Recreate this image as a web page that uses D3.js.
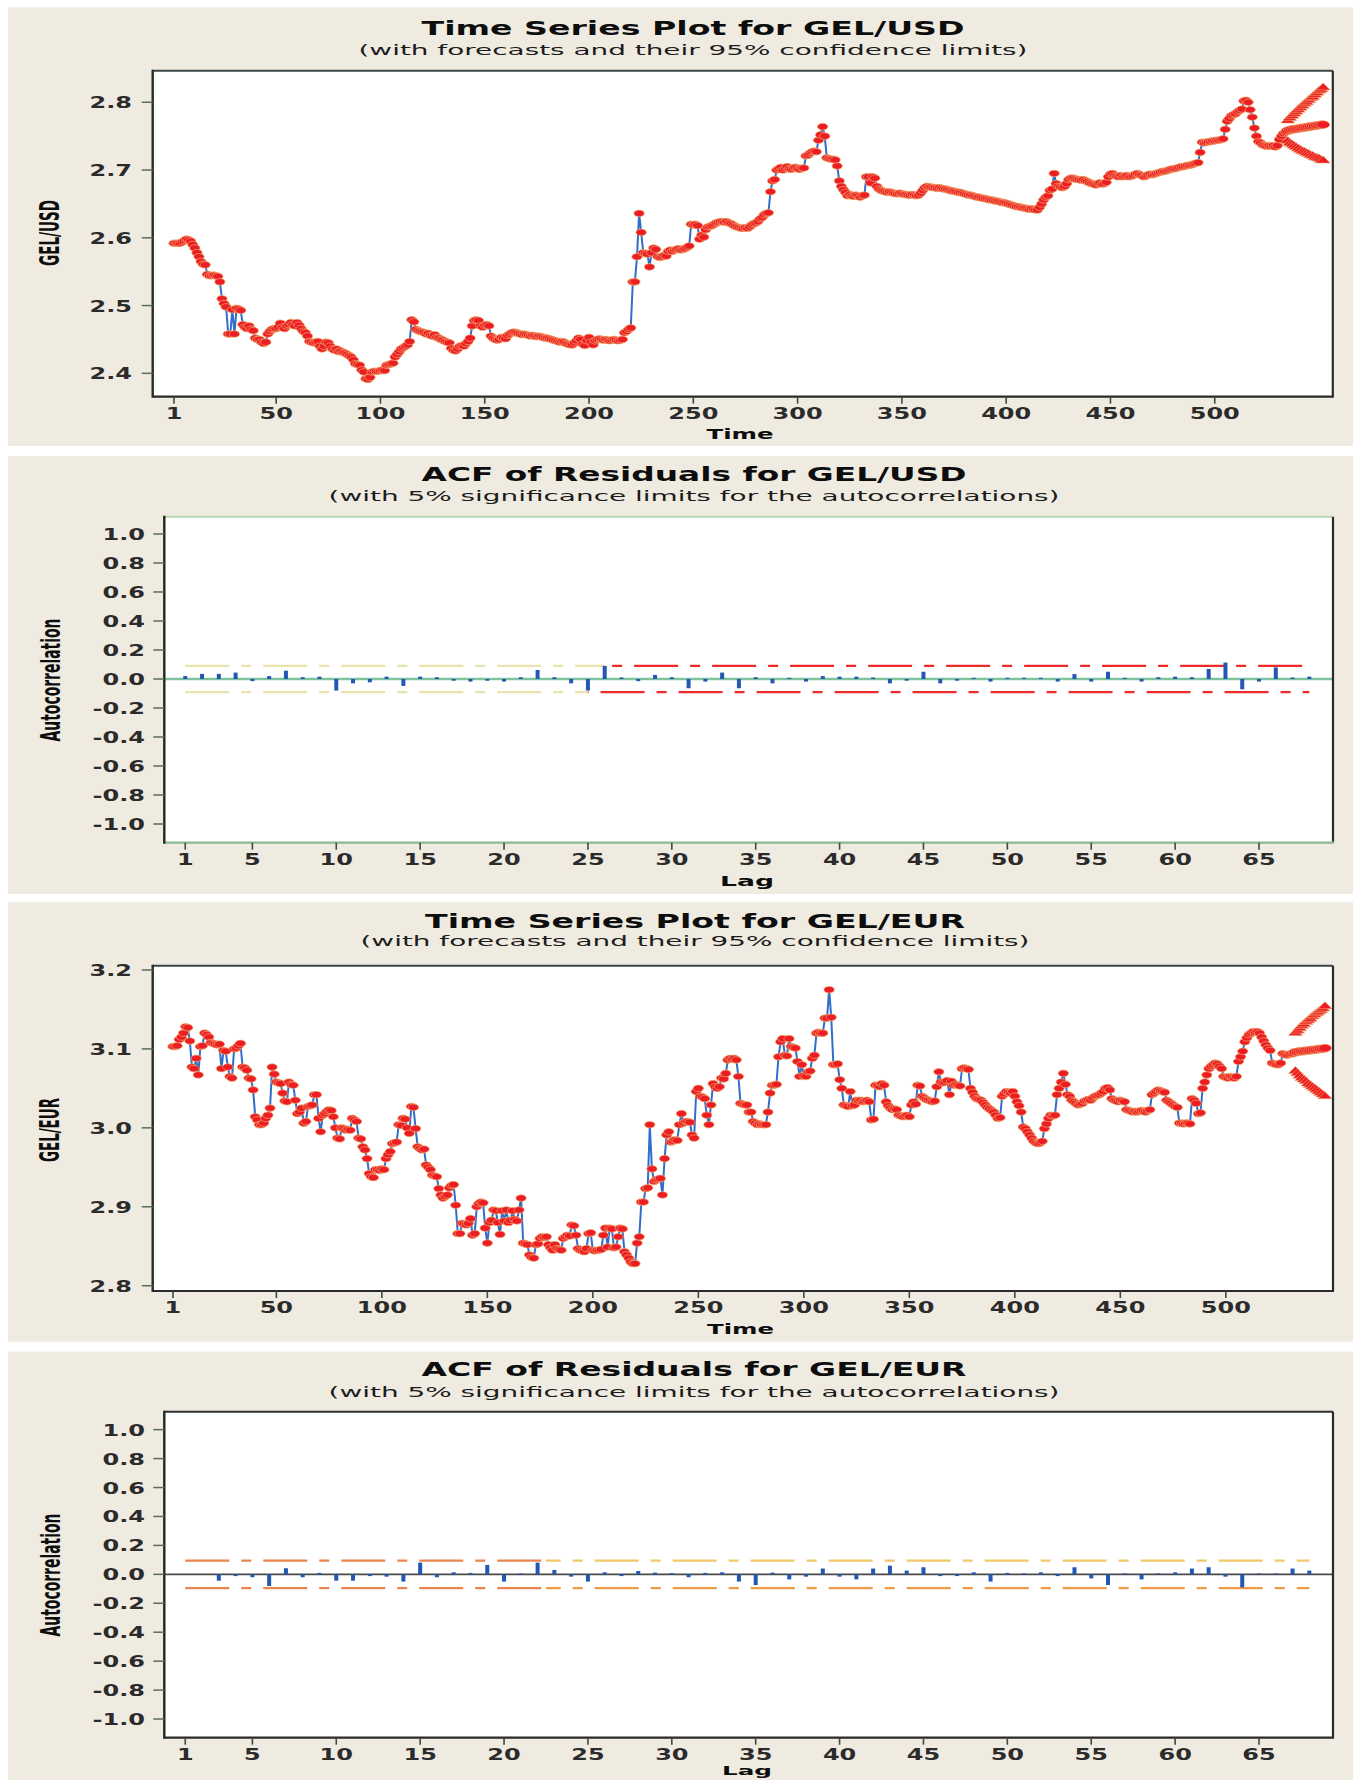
<!DOCTYPE html>
<html>
<head>
<meta charset="utf-8">
<script src="https://cdn.jsdelivr.net/npm/d3@7"></script>
<style>
  body { margin: 0; background: #ffffff; }
  svg { display: block; }
  text { font-family: "DejaVu Sans", Verdana, sans-serif; }
</style>
</head>
<body>
<svg id="chart" width="1362" height="1780"></svg>
<script>
// ---------- data ----------
const timeTicks = [1, 50, 100, 150, 200, 250, 300, 350, 400, 450, 500];
const lagTicks = [1, 5, 10, 15, 20, 25, 30, 35, 40, 45, 50, 55, 60, 65];
const usdTicks = [2.4, 2.5, 2.6, 2.7, 2.8];
const eurTicks = [2.8, 2.9, 3.0, 3.1, 3.2];
const acfTicks = [-1.0, -0.8, -0.6, -0.4, -0.2, 0.0, 0.2, 0.4, 0.6, 0.8, 1.0];

// GEL/USD observations, t = 1 ... n
const gelUsd = [
  2.592,2.592,2.592,2.592,2.594,2.596,2.598,2.597,2.595,2.590,
  2.585,2.578,2.572,2.565,2.561,2.560,2.546,2.544,2.544,2.545,
  2.544,2.543,2.535,2.510,2.503,2.498,2.458,2.458,2.494,2.458,
  2.496,2.495,2.493,2.472,2.468,2.466,2.470,2.465,2.463,2.452,
  2.450,2.450,2.446,2.444,2.446,2.458,2.462,2.465,2.466,2.466,
  2.468,2.474,2.468,2.466,2.470,2.472,2.475,2.472,2.470,2.475,
  2.471,2.466,2.462,2.460,2.455,2.447,2.446,2.445,2.446,2.447,
  2.440,2.436,2.440,2.446,2.445,2.440,2.436,2.434,2.436,2.432,
  2.433,2.431,2.430,2.428,2.426,2.424,2.420,2.414,2.413,2.412,
  2.405,2.402,2.392,2.391,2.394,2.402,2.403,2.403,2.403,2.404,
  2.405,2.404,2.412,2.413,2.414,2.415,2.424,2.428,2.432,2.436,
  2.438,2.440,2.442,2.447,2.479,2.476,2.465,2.463,2.462,2.461,
  2.460,2.458,2.459,2.456,2.455,2.457,2.453,2.452,2.450,2.449,
  2.447,2.446,2.445,2.437,2.434,2.433,2.436,2.440,2.441,2.440,
  2.444,2.447,2.452,2.470,2.478,2.479,2.478,2.470,2.468,2.471,
  2.472,2.470,2.455,2.452,2.450,2.449,2.450,2.453,2.452,2.451,
  2.456,2.458,2.460,2.461,2.460,2.459,2.458,2.457,2.458,2.457,
  2.456,2.455,2.456,2.455,2.454,2.455,2.454,2.453,2.452,2.452,
  2.451,2.450,2.449,2.448,2.447,2.446,2.447,2.446,2.444,2.443,
  2.442,2.442,2.445,2.448,2.452,2.450,2.443,2.441,2.448,2.453,
  2.446,2.442,2.448,2.450,2.451,2.450,2.449,2.450,2.449,2.448,
  2.449,2.450,2.449,2.448,2.449,2.450,2.460,2.462,2.465,2.467,
  2.535,2.535,2.572,2.636,2.608,2.578,2.577,2.576,2.557,2.578,
  2.585,2.583,2.572,2.571,2.572,2.574,2.573,2.580,2.582,2.580,
  2.582,2.583,2.584,2.582,2.583,2.584,2.586,2.588,2.620,2.619,
  2.620,2.618,2.598,2.604,2.601,2.612,2.616,2.617,2.618,2.620,
  2.622,2.623,2.624,2.624,2.623,2.624,2.622,2.621,2.619,2.617,
  2.616,2.615,2.614,2.614,2.615,2.614,2.616,2.619,2.621,2.622,
  2.624,2.628,2.630,2.634,2.636,2.637,2.668,2.684,2.686,2.700,
  2.702,2.704,2.700,2.703,2.705,2.702,2.701,2.703,2.704,2.702,
  2.701,2.703,2.703,2.721,2.722,2.725,2.727,2.728,2.727,2.744,
  2.752,2.764,2.750,2.718,2.717,2.716,2.716,2.715,2.706,2.684,
  2.676,2.671,2.667,2.662,2.664,2.662,2.661,2.663,2.662,2.660,
  2.662,2.663,2.690,2.690,2.681,2.690,2.688,2.676,2.672,2.670,
  2.669,2.668,2.667,2.668,2.667,2.666,2.665,2.665,2.666,2.665,
  2.664,2.664,2.663,2.663,2.664,2.663,2.662,2.663,2.666,2.670,
  2.674,2.676,2.675,2.675,2.674,2.674,2.673,2.674,2.673,2.672,
  2.672,2.671,2.670,2.669,2.669,2.668,2.667,2.667,2.666,2.665,
  2.664,2.663,2.663,2.662,2.661,2.660,2.660,2.659,2.658,2.658,
  2.657,2.656,2.656,2.655,2.654,2.654,2.653,2.652,2.652,2.651,
  2.650,2.649,2.648,2.647,2.646,2.646,2.645,2.644,2.644,2.643,
  2.642,2.643,2.642,2.641,2.641,2.645,2.650,2.656,2.660,2.662,
  2.670,2.672,2.695,2.680,2.676,2.675,2.674,2.676,2.680,2.686,
  2.688,2.688,2.687,2.686,2.686,2.685,2.686,2.684,2.683,2.681,
  2.680,2.679,2.678,2.680,2.681,2.679,2.680,2.682,2.690,2.694,
  2.695,2.692,2.691,2.690,2.692,2.690,2.691,2.692,2.690,2.691,
  2.692,2.694,2.695,2.693,2.692,2.690,2.691,2.693,2.694,2.693,
  2.694,2.695,2.696,2.697,2.698,2.698,2.699,2.700,2.701,2.702,
  2.702,2.703,2.704,2.705,2.705,2.706,2.707,2.707,2.708,2.709,
  2.710,2.711,2.726,2.741,2.740,2.741,2.742,2.742,2.743,2.743,
  2.744,2.744,2.745,2.746,2.760,2.772,2.776,2.780,2.782,2.783,
  2.786,2.788,2.790,2.802,2.803,2.800,2.789,2.778,2.762,2.750,
  2.742,2.740,2.737,2.736,2.735,2.736,2.735,2.736,2.734,2.736,
  2.745,2.750,2.754,2.756
];
const gelUsdForecast = [2.758,2.759,2.760,2.760,2.761,2.761,2.762,2.762,2.763,2.763,2.764,2.764,2.765,2.765,2.766,2.766,2.767,2.767];
const gelUsdUpper = [2.774,2.778,2.781,2.784,2.787,2.790,2.793,2.796,2.799,2.801,2.804,2.807,2.809,2.812,2.815,2.818,2.820,2.823];
const gelUsdLower = [2.744,2.741,2.739,2.737,2.735,2.733,2.731,2.729,2.728,2.726,2.725,2.723,2.722,2.720,2.719,2.718,2.716,2.715];

// GEL/EUR observations, t = 1 ... n
const gelEur = [
  3.103,3.103,3.104,3.112,3.115,3.120,3.128,3.127,3.110,3.077,
  3.075,3.088,3.067,3.103,3.104,3.120,3.118,3.115,3.108,3.107,
  3.106,3.105,3.106,3.075,3.098,3.097,3.077,3.065,3.063,3.100,
  3.101,3.104,3.107,3.077,3.076,3.073,3.063,3.062,3.048,3.014,
  3.010,3.004,3.004,3.006,3.012,3.016,3.025,3.077,3.068,3.058,
  3.057,3.056,3.044,3.034,3.033,3.058,3.055,3.054,3.035,3.018,
  3.020,3.025,3.006,3.008,3.027,3.028,3.029,3.042,3.042,3.012,
  2.995,3.016,3.018,3.021,3.023,3.022,3.014,3.000,2.987,2.986,
  3.000,2.999,2.997,2.998,2.997,3.012,3.010,3.008,2.987,2.986,
  2.976,2.972,2.961,2.942,2.938,2.937,2.947,2.947,2.946,2.948,
  2.947,2.961,2.966,2.970,2.980,2.981,2.982,3.004,3.003,3.012,
  3.011,3.000,2.993,3.027,3.026,2.999,2.976,2.974,2.972,2.973,
  2.953,2.950,2.947,2.940,2.939,2.938,2.923,2.915,2.911,2.913,
  2.915,2.924,2.927,2.928,2.902,2.866,2.866,2.879,2.878,2.877,
  2.879,2.885,2.864,2.866,2.900,2.904,2.906,2.905,2.873,2.854,
  2.880,2.883,2.896,2.895,2.880,2.865,2.895,2.882,2.896,2.880,
  2.883,2.895,2.884,2.882,2.896,2.911,2.854,2.853,2.852,2.839,
  2.836,2.835,2.852,2.853,2.860,2.862,2.861,2.862,2.852,2.848,
  2.845,2.852,2.847,2.846,2.845,2.860,2.862,2.864,2.863,2.877,
  2.876,2.864,2.847,2.845,2.844,2.843,2.847,2.866,2.867,2.845,
  2.844,2.845,2.845,2.846,2.864,2.873,2.849,2.873,2.872,2.848,
  2.849,2.862,2.873,2.872,2.843,2.839,2.835,2.830,2.828,2.828,
  2.854,2.862,2.906,2.906,2.923,2.924,3.004,2.948,2.932,2.934,
  2.935,2.936,2.915,2.961,2.991,2.995,2.982,2.983,2.985,2.984,
  3.004,3.018,3.006,3.008,3.008,3.007,2.991,2.987,3.046,3.050,
  3.040,3.039,3.037,3.016,3.004,3.029,3.056,3.052,3.050,3.052,
  3.063,3.062,3.069,3.086,3.088,3.087,3.088,3.086,3.065,3.031,
  3.030,3.029,3.029,3.020,3.020,3.008,3.006,3.004,3.005,3.004,
  3.004,3.004,3.020,3.044,3.054,3.054,3.055,3.090,3.109,3.113,
  3.092,3.091,3.113,3.103,3.102,3.101,3.084,3.065,3.080,3.066,
  3.065,3.071,3.072,3.088,3.092,3.120,3.121,3.120,3.120,3.139,
  3.139,3.175,3.140,3.080,3.080,3.081,3.061,3.050,3.029,3.028,
  3.027,3.046,3.028,3.029,3.035,3.034,3.035,3.033,3.034,3.035,
  3.033,3.010,3.011,3.054,3.053,3.052,3.056,3.054,3.033,3.028,
  3.025,3.023,3.024,3.023,3.016,3.015,3.014,3.015,3.016,3.014,
  3.029,3.033,3.030,3.054,3.053,3.040,3.038,3.036,3.035,3.034,
  3.033,3.034,3.052,3.071,3.058,3.057,3.058,3.060,3.042,3.059,
  3.054,3.055,3.054,3.053,3.075,3.076,3.075,3.074,3.050,3.045,
  3.040,3.037,3.036,3.035,3.032,3.029,3.026,3.024,3.022,3.020,
  3.016,3.012,3.013,3.040,3.043,3.046,3.045,3.044,3.046,3.040,
  3.033,3.028,3.020,3.001,2.999,2.995,2.991,2.987,2.983,2.981,
  2.980,2.981,2.983,2.999,3.005,3.012,3.016,3.015,3.016,3.042,
  3.050,3.058,3.069,3.055,3.042,3.040,3.035,3.033,3.031,3.029,
  3.030,3.031,3.034,3.035,3.036,3.035,3.038,3.040,3.041,3.042,
  3.044,3.046,3.050,3.051,3.048,3.037,3.035,3.034,3.033,3.035,
  3.034,3.033,3.023,3.022,3.021,3.020,3.021,3.020,3.021,3.022,
  3.021,3.020,3.022,3.023,3.042,3.044,3.046,3.048,3.047,3.046,
  3.045,3.035,3.033,3.031,3.029,3.027,3.026,3.006,3.006,3.005,
  3.006,3.006,3.005,3.037,3.035,3.031,3.018,3.019,3.050,3.058,
  3.067,3.075,3.078,3.080,3.082,3.081,3.078,3.075,3.065,3.064,
  3.063,3.065,3.064,3.063,3.065,3.084,3.090,3.097,3.109,3.114,
  3.118,3.120,3.122,3.121,3.122,3.120,3.115,3.110,3.105,3.101,
  3.098,3.082,3.081,3.080,3.080,3.082,3.094,3.093,3.092,3.093,
  3.094,3.094
];
const gelEurForecast = [3.096,3.096,3.097,3.097,3.097,3.098,3.098,3.098,3.099,3.099,3.099,3.100,3.100,3.100,3.101];
const gelEurUpper = [3.121,3.124,3.127,3.130,3.132,3.135,3.137,3.139,3.142,3.144,3.146,3.148,3.150,3.152,3.155];
const gelEurLower = [3.073,3.070,3.067,3.064,3.062,3.060,3.057,3.055,3.053,3.051,3.049,3.047,3.045,3.043,3.041];

// residual autocorrelations, lags 1 ... 68
const acfUsd = [
  0.020,0.035,0.035,0.044,-0.015,0.020,0.057,0.012,0.016,-0.080,
  -0.030,-0.023,0.016,-0.048,0.016,0.012,-0.012,-0.018,-0.012,-0.018,
  0.012,0.062,0.012,-0.030,-0.080,0.090,0.010,-0.015,0.028,0.012,
  -0.064,-0.018,0.044,-0.064,0.012,-0.030,0.008,-0.018,0.020,0.016,
  0.016,0.010,-0.030,-0.012,0.050,-0.030,-0.012,0.008,-0.018,0.008,
  0.008,0.008,-0.018,0.034,-0.018,0.050,0.008,-0.018,0.012,0.016,
  0.012,0.069,0.113,-0.071,-0.018,0.080,0.010,0.016
];
const acfEur = [
  0.000,0.000,-0.044,-0.012,-0.020,-0.081,0.042,-0.020,0.010,-0.044,
  -0.044,-0.012,-0.016,-0.050,0.081,-0.020,0.014,0.010,0.065,-0.050,
  0.006,0.081,0.030,-0.016,-0.050,0.014,-0.012,0.023,0.012,0.008,
  -0.020,0.010,0.014,-0.050,-0.074,0.012,-0.035,-0.016,0.040,-0.016,
  -0.035,0.040,0.060,0.026,0.049,-0.012,-0.012,0.014,-0.050,0.010,
  0.006,0.014,-0.012,0.049,-0.028,-0.074,0.006,-0.035,0.006,0.014,
  0.040,0.049,-0.016,-0.090,0.006,0.006,0.040,0.026
];
const acfUsdLimit = 0.09;
const acfEurLimit = 0.095;

// ---------- drawing ----------
const svg = d3.select('#chart');
const minus = s => s.replace('\u2212', '-');

function addText(parent, str, x, y, o) {
  let tf = `translate(${x},${y})`;
  if (o.sx) tf += ` scale(${o.sx},1)`;
  if (o.rotate) tf += ` rotate(${o.rotate})`;
  const t = parent.append('text')
    .attr('transform', tf)
    .attr('text-anchor', o.anchor || 'middle')
    .attr('font-size', o.size)
    .attr('font-weight', o.weight || 'normal')
    .attr('fill', o.fill || '#151515')
    .text(str);
  if (o.width) t.attr('textLength', o.width).attr('lengthAdjust', 'spacingAndGlyphs');
  return t;
}

function panelFrame(cfg) {
  const g = svg.append('g');
  g.append('rect')
    .attr('x', 8).attr('y', cfg.bg[0])
    .attr('width', 1345).attr('height', cfg.bg[1] - cfg.bg[0])
    .attr('fill', '#efebe1');
  addText(g, cfg.title, cfg.titleX, cfg.titleY, { size: 20, weight: 'bold', width: cfg.titleW, fill: '#0d0d0d' });
  addText(g, cfg.subtitle, cfg.titleX, cfg.subY, { size: 14.5, width: cfg.subW, fill: '#1c1c1c' });
  const p = cfg.plot;
  g.append('rect')
    .attr('x', p.x0).attr('y', p.y0)
    .attr('width', p.x1 - p.x0).attr('height', p.y1 - p.y0)
    .attr('fill', '#ffffff');
  return g;
}

function borders(g, cfg, colors) {
  const p = cfg.plot;
  g.append('line').attr('x1', p.x0).attr('x2', p.x1).attr('y1', p.y0).attr('y2', p.y0)
    .attr('stroke', colors.top).attr('stroke-width', 2);
  g.append('line').attr('x1', p.x1).attr('x2', p.x1).attr('y1', p.y0).attr('y2', p.y1)
    .attr('stroke', colors.right).attr('stroke-width', 2.2);
  g.append('line').attr('x1', p.x0).attr('x2', p.x1 + 1).attr('y1', p.y1).attr('y2', p.y1)
    .attr('stroke', colors.bottom).attr('stroke-width', 2.2);
  g.append('line').attr('x1', p.x0).attr('x2', p.x0).attr('y1', p.y0 - 1).attr('y2', p.y1 + 1)
    .attr('stroke', colors.left).attr('stroke-width', 2.4);
}

function axes(g, cfg, x, y, xTicks, yTicks, yFmt) {
  const p = cfg.plot;
  const xg = g.append('g');
  xTicks.forEach(v => {
    const px = x(v);
    xg.append('line').attr('x1', px).attr('x2', px).attr('y1', p.y1).attr('y2', p.y1 + 7)
      .attr('stroke', '#3e4a3e').attr('stroke-width', 1.6);
    addText(xg, String(v), px, cfg.xLabelY, { size: 16, weight: 'bold', sx: 1.5, fill: '#2b2b2b' });
  });
  const yg = g.append('g');
  yTicks.forEach(v => {
    const py = y(v);
    yg.append('line').attr('x1', p.x0 - 11).attr('x2', p.x0).attr('y1', py).attr('y2', py)
      .attr('stroke', '#5a6d5a').attr('stroke-width', 1.5);
    addText(yg, minus(yFmt(v)), cfg.yLabelRight, py + 6, { size: 16, weight: 'bold', sx: 1.5, anchor: 'end', fill: '#2b2b2b' });
  });
  addText(g, cfg.xTitle, cfg.xTitleX, cfg.xTitleY, { size: cfg.xTitleSize || 14.5, weight: 'bold', width: cfg.xTitleW, fill: '#0d0d0d' });
  addText(g, cfg.yTitle, cfg.yTitleX, cfg.yTitleY, { size: 27, weight: 'bold', width: cfg.yTitleW, rotate: -90, fill: '#0d0d0d' });
}

function drawSeries(cfg) {
  const g = panelFrame(cfg);
  const p = cfg.plot;
  const x = d3.scaleLinear().domain(cfg.xDomain).range([p.x0, p.x1]);
  const y = d3.scaleLinear().domain(cfg.yDomain).range([p.y1, p.y0]);

  const obs = cfg.values.map((v, i) => ({ t: i + 1, v }));
  const n = obs.length;
  const fc = (arr) => arr.map((v, j) => ({ t: n + 1 + j, v }));

  const clipId = 'clip' + cfg.id;
  svg.append('clipPath').attr('id', clipId).append('rect')
    .attr('x', p.x0).attr('y', p.y0).attr('width', p.x1 - p.x0).attr('height', p.y1 - p.y0);
  const body = g.append('g').attr('clip-path', `url(#${clipId})`);

  body.append('path').datum(obs)
    .attr('d', d3.line().x(d => x(d.t)).y(d => y(d.v)))
    .attr('fill', 'none').attr('stroke', '#2f6ecb').attr('stroke-width', 2);

  body.selectAll('ellipse.obs').data(obs).join('ellipse')
    .attr('class', 'obs')
    .attr('cx', d => x(d.t)).attr('cy', d => y(d.v))
    .attr('rx', 5.2).attr('ry', 3.3)
    .attr('fill', '#ec1d24').attr('stroke', '#f2ab6c').attr('stroke-width', 0.7);

  // forecast limits as flat up-pointing triangles, forecasts as ellipses
  const tri = 'M-7,3.2L7,3.2L0,-3.8Z';
  [cfg.upper, cfg.lower].forEach(arr => {
    body.selectAll(null).data(fc(arr)).join('path')
      .attr('d', tri)
      .attr('transform', d => `translate(${x(d.t)},${y(d.v)})`)
      .attr('fill', '#ec1d24').attr('stroke', '#f2ab6c').attr('stroke-width', 0.6);
  });
  body.selectAll(null).data(fc(cfg.forecast)).join('ellipse')
    .attr('cx', d => x(d.t)).attr('cy', d => y(d.v))
    .attr('rx', 6.5).attr('ry', 3.8)
    .attr('fill', '#ec1d24').attr('stroke', '#f2ab6c').attr('stroke-width', 0.6);

  borders(g, cfg, { top: '#3a4646', right: '#2a2a2a', bottom: '#2a2a2a', left: '#252d20' });
  axes(g, cfg, x, y, timeTicks, cfg.yTicks, d3.format('.1f'));
}

function drawAcf(cfg) {
  const g = panelFrame(cfg);
  const p = cfg.plot;
  const x = d3.scaleLinear().domain([-0.25, 69.41]).range([p.x0, p.x1]);
  const y = d3.scaleLinear().domain(cfg.yDomain).range([p.y1, p.y0]);
  const lags = cfg.values.map((v, i) => ({ lag: i + 1, v }));
  const x1 = x(1);

  // significance limits, dash-dot, pattern kept continuous across colour changes
  cfg.limitSegments.forEach(s => {
    const yy = y(s.sign * cfg.limit);
    g.append('line')
      .attr('x1', x(s.from)).attr('x2', x(s.to))
      .attr('y1', yy).attr('y2', yy)
      .attr('stroke', s.color).attr('stroke-width', 2.2)
      .attr('stroke-dasharray', '44,12,10,12')
      .attr('stroke-dashoffset', -(x(s.from) - x1));
  });

  g.append('line')
    .attr('x1', p.x0).attr('x2', p.x1).attr('y1', y(0)).attr('y2', y(0))
    .attr('stroke', cfg.zeroColor).attr('stroke-width', cfg.zeroWidth);

  g.selectAll(null).data(lags).join('rect')
    .attr('x', d => x(d.lag) - 2)
    .attr('width', 4)
    .attr('y', d => Math.min(y(d.v), y(0)))
    .attr('height', d => Math.abs(y(d.v) - y(0)))
    .attr('fill', '#2358b2');

  borders(g, cfg, cfg.borderColors);
  axes(g, cfg, x, y, lagTicks, acfTicks, d3.format('.1f'));
}

drawSeries({
  id: 1, bg: [7.3, 446],
  title: 'Time Series Plot for GEL/USD',
  subtitle: '(with forecasts and their 95% confidence limits)',
  titleX: 693, titleY: 35, titleW: 543, subY: 54.5, subW: 669,
  plot: { x0: 152.7, x1: 1332.8, y0: 70.7, y1: 396.7 },
  xDomain: [-9.2, 556.6], yDomain: [2.3655, 2.8466],
  values: gelUsd, forecast: gelUsdForecast, upper: gelUsdUpper, lower: gelUsdLower,
  yTicks: usdTicks,
  xLabelY: 419.3, yLabelRight: 132,
  xTitle: 'Time', xTitleX: 740, xTitleY: 438.5, xTitleW: 67,
  yTitle: 'GEL/USD', yTitleX: 59, yTitleY: 233, yTitleW: 66
});

drawAcf({
  id: 2, bg: [456, 894],
  title: 'ACF of Residuals for GEL/USD',
  subtitle: '(with 5% significance limits for the autocorrelations)',
  titleX: 694, titleY: 480.7, titleW: 545, subY: 501, subW: 731,
  plot: { x0: 164.3, x1: 1333, y0: 516.7, y1: 842.7 },
  yDomain: [-1.129, 1.119],
  values: acfUsd, limit: acfUsdLimit,
  limitSegments: [
    { sign: 1, from: 1, to: 26, color: '#e9e2ac' },
    { sign: 1, from: 26, to: 68, color: '#ee2b2b' },
    { sign: -1, from: 1, to: 25, color: '#e9e2ac' },
    { sign: -1, from: 25, to: 68, color: '#ee2b2b' }
  ],
  zeroColor: '#7fc29e', zeroWidth: 2.6,
  borderColors: { top: '#b7dbb0', right: '#2a2a2a', bottom: '#8cb896', left: '#202820' },
  xLabelY: 865, yLabelRight: 145,
  xTitle: 'Lag', xTitleX: 747, xTitleY: 885.5, xTitleW: 54,
  yTitle: 'Autocorrelation', yTitleX: 60, yTitleY: 680, yTitleW: 123
});

drawSeries({
  id: 3, bg: [902.3, 1341.7],
  title: 'Time Series Plot for GEL/EUR',
  subtitle: '(with forecasts and their 95% confidence limits)',
  titleX: 695, titleY: 927.7, titleW: 540, subY: 946, subW: 669,
  plot: { x0: 152.7, x1: 1333, y0: 965.7, y1: 1291 },
  xDomain: [-8.6, 550.8], yDomain: [2.7933, 3.2054],
  values: gelEur, forecast: gelEurForecast, upper: gelEurUpper, lower: gelEurLower,
  yTicks: eurTicks,
  xLabelY: 1313.3, yLabelRight: 132,
  xTitle: 'Time', xTitleX: 740.5, xTitleY: 1333.5, xTitleW: 67,
  yTitle: 'GEL/EUR', yTitleX: 59, yTitleY: 1130, yTitleW: 64
});

drawAcf({
  id: 4, bg: [1351.7, 1790],
  title: 'ACF of Residuals for GEL/EUR',
  subtitle: '(with 5% significance limits for the autocorrelations)',
  titleX: 694, titleY: 1376, titleW: 545, subY: 1397, subW: 731,
  plot: { x0: 164.3, x1: 1333, y0: 1411.7, y1: 1737.7 },
  yDomain: [-1.129, 1.124],
  values: acfEur, limit: acfEurLimit,
  limitSegments: [
    { sign: 1, from: 1, to: 22.5, color: '#e9864f' },
    { sign: 1, from: 22.5, to: 68, color: '#f1c869' },
    { sign: -1, from: 1, to: 22.5, color: '#e9864f' },
    { sign: -1, from: 22.5, to: 68, color: '#ee9a47' }
  ],
  zeroColor: '#4a4a4a', zeroWidth: 1.6,
  borderColors: { top: '#2f2f2f', right: '#2a2a2a', bottom: '#2a2a2a', left: '#202820' },
  xLabelY: 1760, yLabelRight: 145,
  xTitle: 'Lag', xTitleX: 747, xTitleY: 1775, xTitleSize: 13, xTitleW: 50,
  yTitle: 'Autocorrelation', yTitleX: 60, yTitleY: 1575, yTitleW: 123
});
</script>
</body>
</html>
